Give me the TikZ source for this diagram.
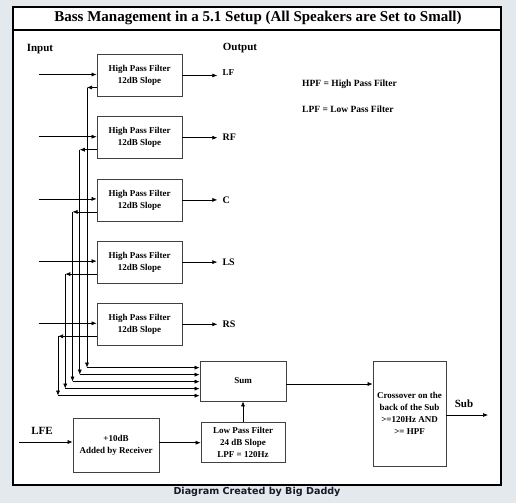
\documentclass[tikz,border=0pt]{standalone}
\usepackage{fontspec}
\setmainfont{Liberation Serif}
\newfontfamily\capfont{DejaVu Sans}
\usetikzlibrary{arrows.meta, positioning}
\definecolor{pagebg}{RGB}{228,233,238}
\definecolor{capcol}{RGB}{25,25,40}

\begin{document}
\begin{tikzpicture}[x=1pt, y=-1pt,
    filt/.style={draw=black!75, line width=0.7pt, minimum width=85pt, minimum height=42pt,
                 align=center, inner sep=1pt, font=\bfseries\fontsize{9}{12}\selectfont},
    lab/.style={inner sep=1pt, font=\bfseries\fontsize{11}{13}\selectfont},
    key/.style={anchor=west, inner sep=0pt, font=\bfseries\fontsize{9.5}{12}\selectfont},
    arr/.style={-{Latex[length=5pt, width=4pt]}, line width=0.6pt}
]
% page and frame
\fill[pagebg] (0,0) rectangle (516,503);
\draw[line width=2pt, fill=white] (13,7) rectangle (501,485);
\draw[line width=1.6pt] (13,30) -- (501,30);
\node[anchor=base, inner sep=0pt, font=\bfseries\fontsize{15}{18}\selectfont] (title) at (258,22)
    {Bass Management in a 5.1 Setup (All Speakers are Set to Small)};

\node[lab] (input)  at (40,49)  {Input};
\node[lab] (output) at (240,48) {Output};
\node[key] (hpfkey) at (302,84)  {HPF = High Pass Filter};
\node[key] (lpfkey) at (302,109) {LPF = Low Pass Filter};

% high pass filters
\node[filt] (HPF1) at (139.5,75.5) {High Pass Filter\\12dB Slope};
\node[filt, below=19.5pt of HPF1] (HPF2) {High Pass Filter\\12dB Slope};
\node[filt, below=19.5pt of HPF2] (HPF3) {High Pass Filter\\12dB Slope};
\node[filt, below=19.5pt of HPF3] (HPF4) {High Pass Filter\\12dB Slope};
\node[filt, below=19.5pt of HPF4] (HPF5) {High Pass Filter\\12dB Slope};

% bass path
\node[filt, minimum width=86pt, minimum height=40pt] (Sum) at (243,381) {Sum};
\node[filt, minimum width=73pt, minimum height=105pt] (Cross) at (409.5,413.5)
    {Crossover on the\\back of the Sub\\>=120Hz AND\\>= HPF};
\node[filt, minimum width=84pt, minimum height=40pt, below=21pt of Sum] (LPF)
    {Low Pass Filter\\24 dB Slope\\LPF = 120Hz};
\node[filt, minimum width=86pt, minimum height=54pt] (Gain) at (116,445)
    {+10dB\\Added by Receiver};

% inputs and outputs
\foreach \i in {1,...,5} {
  \coordinate (in\i) at ([xshift=-58pt, yshift=1pt]HPF\i.west);
  \draw[arr] (in\i) -- (in\i -| HPF\i.west);
}
\foreach \i/\spk/\fs/\dy in {1/LF/9/3, 2/RF/10/0, 3/C/10/0, 4/LS/10/0, 5/RS/10/0} {
  \coordinate (out\i) at ([xshift=35pt]HPF\i.east);
  \draw[arr] (HPF\i.east) -- (out\i);
  \node[anchor=west, inner sep=1pt, font=\bfseries\fontsize{\fs}{12}\selectfont]
      (spk\i) at ([xshift=4pt, yshift=\dy pt]out\i) {\spk};
}

% low end of each channel to the sum
\foreach \i in {1,...,5} {
  \coordinate (fbout\i) at ([yshift=-12pt]HPF\i.west);
  \coordinate (fbx\i) at ({94.25-7.25*\i},0);
  \coordinate (sumin\i) at ([yshift={-7pt*\i}]Sum.north west);
  \draw[arr] (fbout\i) -- (fbout\i -| fbx\i);
  \draw[arr] (fbout\i -| fbx\i) -- (sumin\i -| fbx\i);
  \draw[arr] (sumin\i -| fbx\i) -- (sumin\i);
}

% LFE channel
\node[lab] (lfe) at (42,431) {LFE};
\coordinate (lfein) at (19,442);
\draw[arr] (lfein) -- (lfein -| Gain.west);
\draw[arr] (Gain.east |- LPF.west) -- (LPF.west);
\draw[arr] (LPF.north) -- (LPF.north |- Sum.south);
\draw[arr] ([yshift=-3pt]Sum.east) -- ([yshift=-3pt]Sum.east -| Cross.west);

\node[lab] (sub) at (464,404) {Sub};
\coordinate (subout) at (488,415);
\draw[arr] (Cross.east |- subout) -- (subout);

\node[font=\capfont\bfseries\fontsize{9.6}{11}\selectfont, text=capcol] (credit) at (257,492)
    {Diagram Created by Big Daddy};
\end{tikzpicture}
\end{document}
